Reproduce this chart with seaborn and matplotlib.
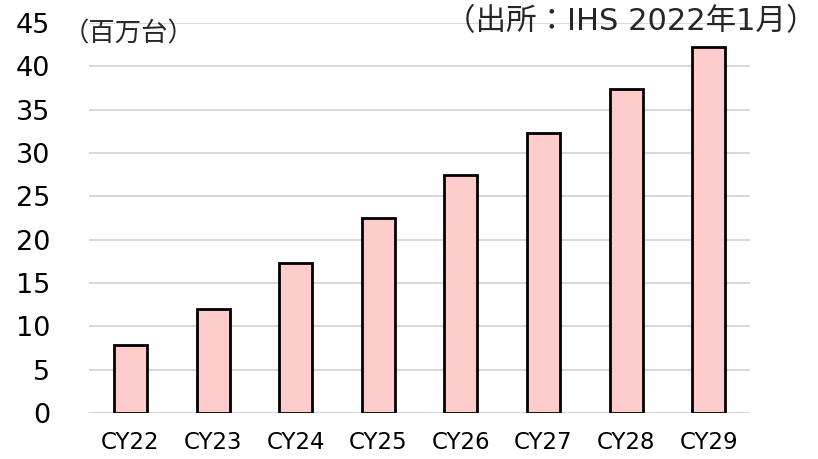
import pandas as pd
import matplotlib.pyplot as plt
import seaborn as sns

# データ（百万台）
years = ['CY22', 'CY23', 'CY24', 'CY25', 'CY26', 'CY27', 'CY28', 'CY29']
units = [7.8, 12.0, 17.3, 22.5, 27.5, 32.3, 37.4, 42.2]
y_ticks = [0, 5, 10, 15, 20, 25, 30, 35, 40, 45]

df = pd.DataFrame({'year': years, 'units': units})

sns.set_theme(style='white')
# ラテン文字は DejaVu（Verdana 風）、日本語は Noto Sans CJK JP
plt.rcParams['font.family'] = ['DejaVu Sans', 'Noto Sans CJK JP']

fig, ax = plt.subplots(figsize=(8.18, 4.59), dpi=100)
fig.subplots_adjust(left=0.109, right=0.917, top=0.95, bottom=0.10)

sns.barplot(data=df, x='year', y='units', color='#FFCCCC', width=0.4,
            edgecolor='black', linewidth=2, saturation=1, ax=ax, zorder=3)

ax.set_ylim(0, 45)
ax.set_yticks(y_ticks)
ax.yaxis.grid(True, color='#d9d9d9', linewidth=1.5, zorder=0)
ax.set_axisbelow(True)
sns.despine(ax=ax, left=True, bottom=True, top=True, right=True)
ax.set_xlabel('')
ax.set_ylabel('')
ax.tick_params(axis='y', labelsize=19.5, pad=28, length=0, labelcolor='black')
ax.tick_params(axis='x', labelsize=16.5, pad=13, length=0, labelcolor='black')

fig.text(0.076, 0.924, '（百万台）', fontsize=19, va='center', ha='left')
fig.text(0.998, 0.953, '（出所：IHS 2022年1月）', fontsize=22, va='center', ha='right')

plt.savefig('out.png', dpi=100)
